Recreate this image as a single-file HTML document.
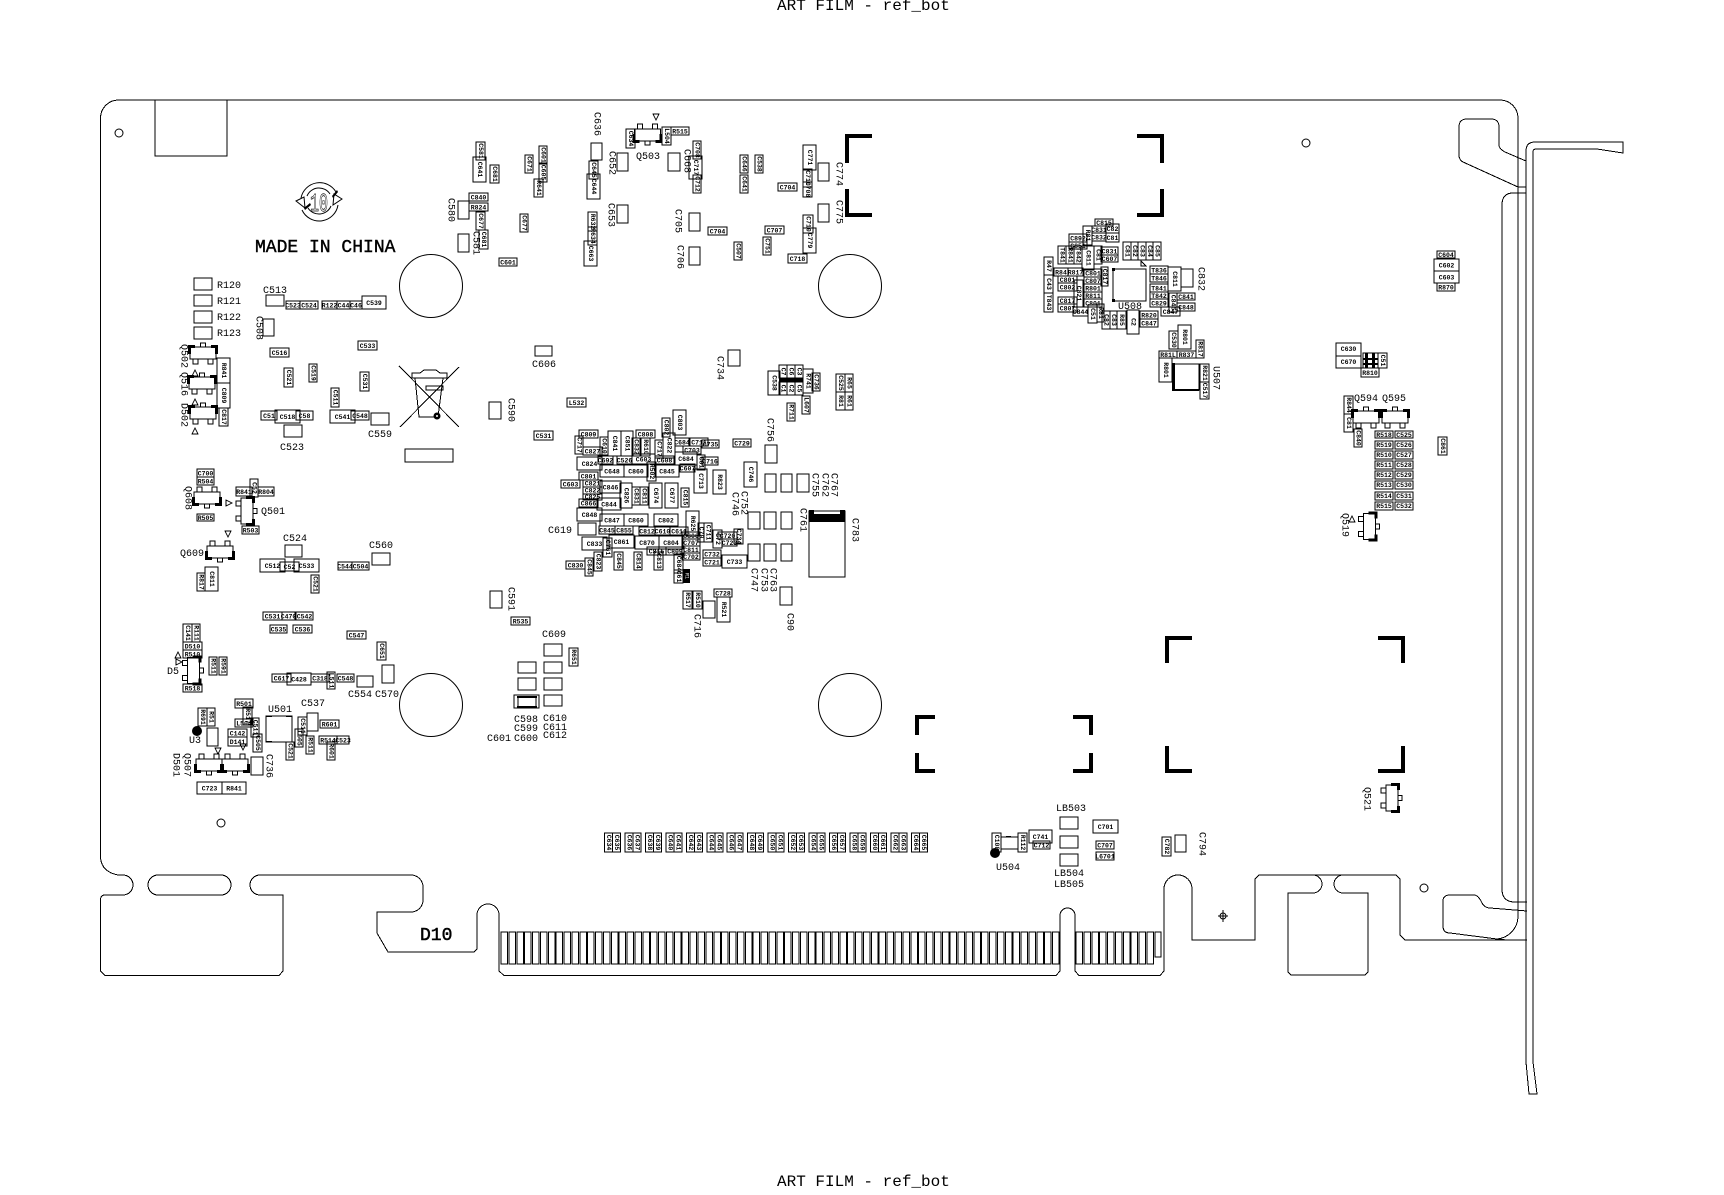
<!DOCTYPE html>
<html><head><meta charset="utf-8"><title>ART FILM - ref_bot</title>
<style>
html,body{margin:0;padding:0;background:#fff}
svg{display:block}
.o{fill:none;stroke:#000;stroke-width:1;shape-rendering:crispEdges}
.c{fill:none;stroke:#000;stroke-width:1}
.b{fill:none;stroke:#000;stroke-width:4;shape-rendering:crispEdges}
text{font-family:"Liberation Mono",monospace;fill:#000}
.t{font-size:16px}
.l{font-size:10px}
.lv{font-size:10px;writing-mode:vertical-rl;text-anchor:middle}
.h text{font-size:6.5px;font-weight:bold;text-anchor:middle}
.v text{font-size:6.5px;font-weight:bold;text-anchor:middle;writing-mode:vertical-rl}
</style></head><body>
<svg xmlns="http://www.w3.org/2000/svg" width="1724" height="1195" viewBox="0 0 1724 1195">
<defs>
<g id="s"><path class="o" d="M-13-6h26v12h-26zM-2.500-10h5v4h-5zM-10 6h5v5h-5zM5 6h5v5h-5z"/><path d="M-15-8h7v3h-4v6h-3zM15-8h-7v3h4v6h3z"/></g>
</defs>
<text class="t" x="777" y="10">ART FILM - ref_bot</text>
<text class="t" x="777" y="1186">ART FILM - ref_bot</text>

<!-- board outline -->
<path class="o" d="M100.500 118A18 18 0 0 1 118.500 100H1500A18 18 0 0 1 1518 118V917A23 23 0 0 1 1497 939"/>
<path class="o" d="M100.500 118V858Q102 872 118 875H123A10 10 0 0 1 123 895H105Q101 895 100.500 899V971L105 975.500H279L283 971V895H260A10 10 0 0 1 260 875H411A12 12 0 0 1 423 887V900A12 12 0 0 1 411 912H377V933L388 952H474L477 949V915A11 11 0 0 1 499 915V971L504 975.500H1056L1060 971V915.500A7.500 7.500 0 0 1 1075 915.500V971L1079 975.500H1160L1164 971V889A14 14 0 0 1 1192 889V940H1255V879L1259 875H1396L1400 879V935L1405 940H1527"/>
<rect class="o" x="148" y="875" width="83" height="20" rx="10"/>
<path class="o" d="M1313 875A9 9 0 0 1 1313 893H1288V972L1291 975H1365L1368 972V893H1343A9 9 0 0 1 1343 875"/>
<path class="o" d="M1490 908L1527 911M1490 908Q1484 908 1481 901Q1478 895 1474 895H1450Q1443 895 1443 901V926Q1443 933 1450 933L1497 939L1507 940"/>
<path class="o" d="M1526 193H1513Q1502 193 1502 205V889Q1502 902 1515 902H1527"/>
<path class="o" d="M1526 161L1505 152Q1499 149 1499 145V127Q1499 119 1491 119H1467Q1459 119 1459 127V155Q1459 160 1463 162L1518 187H1526"/>
<path class="o" d="M1526 1062V151Q1526 142 1535 142H1623V153L1597 149H1536Q1533 149 1533 152V1062L1537 1094H1529L1526 1062"/>
<path class="o" d="M155 100V156H227V100"/>

<!-- holes -->
<circle class="c" cx="431" cy="286" r="31.500"/><circle class="c" cx="431" cy="705" r="31.500"/>
<circle class="c" cx="850" cy="286" r="31.500"/><circle class="c" cx="850" cy="705" r="31.500"/>
<circle class="c" cx="119" cy="133" r="4"/><circle class="c" cx="221" cy="823" r="4"/>
<circle class="c" cx="1306" cy="143" r="4"/><circle class="c" cx="1424" cy="888" r="4"/>
<circle class="c" cx="1223" cy="916" r="3"/><path class="o" d="M1218 916h10M1223 910v12"/>

<!-- black corner brackets -->
<path class="b" d="M872 136H847V163M847 189V215H872M1137 136H1162V163M1162 189V215H1137"/>
<path class="b" d="M1192 638H1167V663M1378 638H1403V663M1167 746V771H1192M1403 746V771H1378"/>
<path class="b" d="M935 717H917V735M1073 717H1091V735M917 753V771H935M1091 753V771H1073"/>

<!-- gold fingers -->
<path class="o" d="M501 932h6.500v32h-6.500zm7.880 0h6.500v32h-6.500zm7.880 0h6.500v32h-6.500zm7.880 0h6.500v32h-6.500zm7.880 0h6.500v32h-6.500zm7.880 0h6.500v32h-6.500zm7.880 0h6.500v32h-6.500zm7.880 0h6.500v32h-6.500zm7.880 0h6.500v32h-6.500zm7.880 0h6.500v32h-6.500z
m7.880 0h6.500v32h-6.500zm7.880 0h6.500v32h-6.500zm7.880 0h6.500v32h-6.500zm7.880 0h6.500v32h-6.500zm7.880 0h6.500v32h-6.500zm7.880 0h6.500v32h-6.500zm7.880 0h6.500v32h-6.500zm7.880 0h6.500v32h-6.500zm7.880 0h6.500v32h-6.500zm7.880 0h6.500v32h-6.500z
m7.880 0h6.500v32h-6.500zm7.880 0h6.500v32h-6.500zm7.880 0h6.500v32h-6.500zm7.880 0h6.500v32h-6.500zm7.880 0h6.500v32h-6.500zm7.880 0h6.500v32h-6.500zm7.880 0h6.500v32h-6.500zm7.880 0h6.500v32h-6.500zm7.880 0h6.500v32h-6.500zm7.880 0h6.500v32h-6.500z
m7.880 0h6.500v32h-6.500zm7.880 0h6.500v32h-6.500zm7.880 0h6.500v32h-6.500zm7.880 0h6.500v32h-6.500zm7.880 0h6.500v32h-6.500zm7.880 0h6.500v32h-6.500zm7.880 0h6.500v32h-6.500zm7.880 0h6.500v32h-6.500zm7.880 0h6.500v32h-6.500zm7.880 0h6.500v32h-6.500z
m7.880 0h6.500v32h-6.500zm7.880 0h6.500v32h-6.500zm7.880 0h6.500v32h-6.500zm7.880 0h6.500v32h-6.500zm7.880 0h6.500v32h-6.500zm7.880 0h6.500v32h-6.500zm7.880 0h6.500v32h-6.500zm7.880 0h6.500v32h-6.500zm7.880 0h6.500v32h-6.500zm7.880 0h6.500v32h-6.500z
m7.880 0h6.500v32h-6.500zm7.880 0h6.500v32h-6.500zm7.880 0h6.500v32h-6.500zm7.880 0h6.500v32h-6.500zm7.880 0h6.500v32h-6.500zm7.880 0h6.500v32h-6.500zm7.880 0h6.500v32h-6.500zm7.880 0h6.500v32h-6.500zm7.880 0h6.500v32h-6.500zm7.880 0h6.500v32h-6.500z
m7.880 0h6.500v32h-6.500zm7.880 0h6.500v32h-6.500zm7.880 0h6.500v32h-6.500zm7.880 0h6.500v32h-6.500zm7.880 0h6.500v32h-6.500zm7.880 0h6.500v32h-6.500zm7.880 0h6.500v32h-6.500zm7.880 0h6.500v32h-6.500zm7.880 0h6.500v32h-6.500zm7.880 0h6.500v32h-6.500z
m7.880 0h6.500v32h-6.500z"/>
<path class="o" d="M1076 932h6.500v32h-6.500zm7.880 0h6.500v32h-6.500zm7.880 0h6.500v32h-6.500zm7.880 0h6.500v32h-6.500zm7.880 0h6.500v32h-6.500zm7.880 0h6.500v32h-6.500zm7.880 0h6.500v32h-6.500zm7.880 0h6.500v32h-6.500zm7.880 0h6.500v32h-6.500zm7.880 0h6.500v32h-6.500zM1155 932h6v25h-6z"/>

<!-- logo -->
<path class="c" d="M301 198A19 19 0 0 1 336 192M338 205A19 19 0 0 1 302 210M307 196A13 13 0 0 1 330 194M331 206A13 13 0 0 1 308 208"/>
<path class="c" d="M296 201L304 197L305 208zM342 199L334 194L333 205z"/>
<path d="M304 208l6-5 1 2-6 5zM332 196l5-6 1 2-5 6z"/>
<text x="310" y="211" font-size="26" textLength="18" lengthAdjust="spacingAndGlyphs" style="fill:#fff;stroke:#000;stroke-width:.7">10</text>
<text x="255" y="252" font-size="18" style="stroke:#000;stroke-width:.4">MADE IN CHINA</text>

<!-- recycle bin -->
<path class="o" d="M399 366L459 427M459 367L400 427M415 378L419 417H438L443 378M412 378H447V373H440L436 370H424L420 373H412zM426 386H443V390H426z"/>
<circle cx="437" cy="416" r="3.500" fill="#000"/><circle cx="437" cy="416" r="1" fill="#fff"/>
<path class="o" d="M405 449h48v13h-48z"/>

<!-- transistors -->
<use href="#s" transform="translate(203 353)"/><use href="#s" transform="translate(202 383)"/><use href="#s" transform="translate(203 413)"/>
<use href="#s" transform="translate(647.500 135) rotate(180)"/>
<use href="#s" transform="translate(207 498) rotate(180)"/>
<use href="#s" transform="translate(247 511) rotate(90)"/>
<use href="#s" transform="translate(220 552) rotate(180)"/>
<use href="#s" transform="translate(193.500 670.500) rotate(90)"/>
<use href="#s" transform="translate(209 765) rotate(180)"/><use href="#s" transform="translate(235 765) rotate(180)"/>
<use href="#s" transform="translate(1366 417)"/><use href="#s" transform="translate(1395 417)"/>
<use href="#s" transform="translate(1369.500 526.500) rotate(90)"/>
<use href="#s" transform="translate(1392 798) rotate(90)"/>
<path class="o" d="M192 376l3-6 3 6zM192 405l3-6 3 6zM192 434l3-6 3 6zM653 114l3 6 3-6zM226 500l6 3-6 3zM225 531l3 6 3-6zM175 658l3-6 3 6zM176 659l6 3-6 3zM215 748l3 6 3-6zM240 744l3 6 3-6zM1349 522l3-6 3 6zM1141 261l5 5h-5z"/>

<!-- ICs + dots -->
<rect x="266" y="716" width="26" height="26" class="o"/><path d="M266 716h6v1h-6zM286 716h6v1h-6zM266 741h6v1h-6z"/>
<path class="o" d="M1113 269h33v32h-33z"/><path d="M1112 268h3v3h-3zM1112 299h3v3h-3z"/>
<path d="M1172 363h3v28h-3zM1172 389h27v2h-27z"/><path class="o" d="M1173 364h26v26h-26z"/>
<circle cx="197" cy="731" r="5"/><circle cx="995" cy="853" r="5"/>

<!-- plain outline pads (no small label) -->
<path class="o" d="M194 278h18v12h-18zM194 295h18v11h-18zM194 311h18v12h-18zM194 327h18v12h-18zM266 295h18v11h-18zM263 319h11v17h-11zM371 413h18v12h-18zM284 425h18v12h-18zM535 346h17v10h-17zM489 402h12v17h-12z
M458 201h11v18h-11zM458 234h11v18h-11zM591 143h11v17h-11zM617 153h11v18h-11zM617 205h11v18h-11zM668 153h12v18h-12zM689 213h11v18h-11zM689 247h11v18h-11zM818 163h11v18h-11zM818 204h11v18h-11zM728 350h12v16h-12z
M285 545h17v12h-17zM372 553h18v12h-18zM578 523h18v12h-18zM357 676h16v11h-16zM382 665h12v18h-12zM490 591h12v17h-12zM544 644h18v12h-18zM544 662h18v11h-18zM544 678h18v12h-18zM544 695h18v11h-18zM518 662h18v11h-18zM518 678h18v12h-18zM514 695h25v13h-25zM518 697h18v10h-18z
M207 728h11v18h-11zM307 713h11v18h-11zM251 757h12v18h-12zM765 445h12v18h-12zM765 474h11v18h-11zM781 474h11v18h-11zM797 474h12v18h-12zM748 512h12v17h-12zM764 512h12v17h-12zM781 512h11v17h-11zM748 544h12v17h-12zM764 544h12v17h-12zM781 544h11v17h-11zM780 587h12v18h-12zM703 601h12v17h-12z
M809 511h36v66h-36zM1181 269h12v18h-12zM1001 837h17v12h-17zM1060 817h18v12h-18zM1060 836h18v12h-18zM1060 854h18v12h-18zM1175 835h11v17h-11z"/>
<path d="M809 514h36v8h-36zM809 510h5v4h-5zM840 510h5v4h-5z"/>
<path d="M517 696h20v2h-20zM517 706h20v2h-20z"/>
<path d="M1006 836h5v1h-5z"/>

<!-- big labels horizontal -->
<g class="l">
<text class="l" x="217" y="288">R120</text><text class="l" x="217" y="304">R121</text><text class="l" x="217" y="320">R122</text><text class="l" x="217" y="336">R123</text>
<text class="l" x="263" y="293">C513</text><text class="l" x="368" y="437">C559</text><text class="l" x="280" y="450">C523</text><text class="l" x="532" y="367">C606</text>
<text class="l" x="636" y="159">Q503</text><text class="l" x="261" y="514">Q501</text><text class="l" x="180" y="556">Q609</text><text class="l" x="283" y="541">C524</text><text class="l" x="369" y="548">C560</text><text class="l" x="548" y="533">C619</text>
<text class="l" x="542" y="637">C609</text><text class="l" x="514" y="722">C598</text><text class="l" x="543" y="721">C610</text><text class="l" x="514" y="731">C599</text><text class="l" x="543" y="730">C611</text><text class="l" x="487" y="741">C601</text><text class="l" x="514" y="741">C600</text><text class="l" x="543" y="738">C612</text>
<text class="l" x="167" y="674">D5</text><text class="l" x="348" y="697">C554</text><text class="l" x="375" y="697">C570</text><text class="l" x="189" y="743">U3</text><text class="l" x="268" y="712">U501</text><text class="l" x="301" y="706">C537</text>
<text class="l" x="1118" y="309">U508</text><text class="l" x="1354" y="401">Q594</text><text class="l" x="1382" y="401">Q595</text>
<text class="l" x="996" y="870">U504</text><text class="l" x="1056" y="811">LB503</text><text class="l" x="1054" y="876">LB504</text><text class="l" x="1054" y="887">LB505</text>
</g>
<text x="420" y="940" font-size="18" style="stroke:#000;stroke-width:.5">D10</text>

<!-- big labels vertical -->
<text class="lv" x="258" y="328">C508</text><text class="lv" x="183" y="356">Q502</text><text class="lv" x="183" y="384">Q516</text><text class="lv" x="183" y="415">D502</text>
<text class="lv" x="450" y="210">C580</text><text class="lv" x="475" y="243">C581</text><text class="lv" x="596" y="124">C636</text><text class="lv" x="611" y="163">C652</text><text class="lv" x="610" y="215">C653</text><text class="lv" x="686" y="161">C668</text><text class="lv" x="677" y="221">C705</text><text class="lv" x="679" y="257">C706</text><text class="lv" x="838" y="174">C774</text><text class="lv" x="838" y="212">C775</text>
<text class="lv" x="510" y="410">C590</text><text class="lv" x="719" y="368">C734</text><text class="lv" x="769" y="430">C756</text><text class="lv" x="187" y="498">Q608</text><text class="lv" x="510" y="599">C591</text>
<text class="lv" x="175" y="765">D501</text><text class="lv" x="186" y="765">Q507</text><text class="lv" x="268" y="766">C736</text>
<text class="lv" x="696" y="626">C716</text><text class="lv" x="802" y="520">C761</text><text class="lv" x="854" y="530">C783</text><text class="lv" x="833" y="485">C767</text><text class="lv" x="824" y="485">C762</text><text class="lv" x="814" y="485">C755</text><text class="lv" x="743" y="503">C752</text><text class="lv" x="734" y="504">C746</text><text class="lv" x="772" y="580">C763</text><text class="lv" x="763" y="580">C753</text><text class="lv" x="753" y="580">C747</text><text class="lv" x="789" y="622">C90</text>
<text class="lv" x="1200" y="279">C832</text><text class="lv" x="1215" y="378">U507</text><text class="lv" x="1344" y="525">Q519</text><text class="lv" x="1366" y="799">Q521</text><text class="lv" x="1201" y="844">C794</text>

<!-- small parts: left / top -->
<path class="o" d="M286 301h14v8h-14zM300 301h18v8h-18zM322 301h15v8h-15zM337 301h13v8h-13zM350 301h12v8h-12zM362 296h24v13h-24zM270 348h19v9h-19zM358 341h19v9h-19zM261 411h16v9h-16zM275 410h25v13h-25zM296 411h17v9h-17zM330 410h25v13h-25zM351 411h18v9h-18z
M469 193h19v8h-19zM469 203h19v8h-19zM499 258h18v8h-18zM671 127h18v8h-18zM708 227h19v8h-19zM778 183h19v8h-19zM765 226h19v8h-19zM788 254h19v9h-19zM534 431h19v9h-19zM567 398h19v9h-19z"/>
<g class="h">
<text x="293" y="307.500">C523</text><text x="309" y="307.500">C524</text><text x="329.500" y="307.500">R122</text><text x="343.500" y="307.500">C44</text><text x="356" y="307.500">C46</text><text x="374" y="305">C539</text><text x="279.500" y="355">C516</text><text x="367.500" y="348">C533</text><text x="269" y="418">C51</text><text x="287.500" y="419">C518</text><text x="304.500" y="418">C58</text><text x="342.500" y="419">C541</text><text x="360" y="418">C548</text>
<text x="478.500" y="199.500">C840</text><text x="478.500" y="209.500">R824</text><text x="508" y="264.500">C601</text><text x="680" y="133.500">R515</text><text x="717.500" y="233.500">C704</text><text x="787.500" y="189.500">C704</text><text x="774.500" y="232.500">C707</text><text x="797.500" y="261">C718</text><text x="543.500" y="438">C531</text><text x="576.500" y="405">L532</text>
</g>
<path class="o" d="M284 368h9v19h-9zM309 364h8v18h-8zM360 372h9v19h-9zM331 388h8v19h-8zM217 358h13v25h-13zM217 383h13v25h-13zM219 408h9v18h-9z
M476 142h9v18h-9zM473 157h13v25h-13zM490 165h9v18h-9zM525 155h8v18h-8zM539 146h8v18h-8zM539 163h8v19h-8zM534 179h9v18h-9zM476 212h9v18h-9zM479 230h9v19h-9zM520 214h8v18h-8z
M589 161h9v18h-9zM587 174h13v25h-13zM588 212h9v19h-9zM588 227h9v18h-9zM584 241h13v25h-13zM626 129h9v19h-9zM662 127h9v18h-9zM693 141h8v18h-8zM689 156h13v23h-13zM693 175h8v18h-8zM740 155h8v18h-8zM740 175h8v18h-8zM755 155h8v18h-8zM734 242h8v18h-8zM763 237h8v18h-8z
M803 145h13v25h-13zM803 169h9v18h-9zM803 182h9v15h-9zM803 215h10v18h-10zM803 228h13v25h-13z"/>
<g class="v">
<text x="288.500" y="377.500">C521</text><text x="313" y="373">C519</text><text x="364.500" y="381.500">C531</text><text x="335" y="397.500">C511</text><text x="223.500" y="370.500">R841</text><text x="223.500" y="395.500">C809</text><text x="223.500" y="417">C817</text>
<text x="480.500" y="151">C581</text><text x="479.500" y="169.500">C641</text><text x="494.500" y="174">C681</text><text x="529" y="164">C671</text><text x="543" y="155">C601</text><text x="543" y="172.500">C605</text><text x="538.500" y="188">R641</text><text x="480.500" y="221">C677</text><text x="483.500" y="239.500">C681</text><text x="524" y="223">C677</text>
<text x="593.500" y="170">C645</text><text x="593.500" y="186.500">C644</text><text x="592.500" y="221.500">R632</text><text x="592.500" y="236">R634</text><text x="590.500" y="253.500">C663</text><text x="630.500" y="138.500">C634</text><text x="666.500" y="136">L504</text><text x="697" y="150">C708</text><text x="695.500" y="167.500">C717</text><text x="697" y="184">C712</text><text x="744" y="164">C646</text><text x="744" y="184">C641</text><text x="759" y="164">C538</text><text x="738" y="251">C507</text><text x="767" y="246">C751</text>
<text x="809.500" y="157.500">C771</text><text x="807.500" y="178">C710</text><text x="807.500" y="189.500">C708</text><text x="808" y="224">C710</text><text x="809.500" y="240.500">C779</text>
</g>

<!-- cluster around C738 -->
<path class="o" d="M768 371h12v24h-12zM779 365h8v13h-8zM787 365h8v13h-8zM795 365h8v13h-8zM779 382h8v13h-8zM787 382h8v13h-8zM795 382h8v13h-8zM803 369h10v24h-10zM812 373h8v18h-8zM802 396h8v18h-8zM787 403h8v18h-8zM836 374h9v18h-9zM845 374h8v18h-8zM836 392h9v18h-9zM845 392h8v18h-8z"/>
<path d="M779 378h24v4h-24z"/>
<g class="v"><text x="774" y="383">C538</text><text x="783" y="371.500">C7</text><text x="791" y="371.500">C6</text><text x="799" y="371.500">C3</text><text x="783" y="388.500">C1</text><text x="791" y="388.500">C2</text><text x="799" y="388.500">C5</text><text x="808" y="381">R741</text><text x="816" y="382">C736</text><text x="806" y="405">L607</text><text x="791" y="412">R711</text><text x="840.500" y="383">C525</text><text x="849" y="383">R65</text><text x="840.500" y="401">R81</text><text x="849" y="401">R61</text></g>

<!-- Q608/Q501 area -->
<path class="o" d="M197 469h17v8h-17zM197 477h17v8h-17zM197 514h17v7h-17zM236 487h16v9h-16zM258 487h16v9h-16zM242 526h17v8h-17zM260 559h25v13h-25zM280 562h19v9h-19zM294 559h25v13h-25zM338 562h14v8h-14zM352 562h17v8h-17zM263 612h19v8h-19zM282 612h13v8h-13zM296 612h17v8h-17zM270 625h17v8h-17zM293 625h19v8h-19zM347 631h19v8h-19zM511 617h19v8h-19z
M183 642h19v8h-19zM183 650h19v8h-19zM183 684h19v8h-19zM272 674h19v8h-19zM287 673h24v12h-24zM311 674h18v8h-18zM337 674h17v8h-17zM235 699h18v9h-18zM235 719h18v8h-18zM228 729h19v8h-19zM228 737h19v9h-19zM320 720h19v8h-19zM319 736h18v8h-18zM337 736h12v8h-12zM197 782h25v12h-25zM222 782h24v12h-24z"/>
<g class="h">
<text x="205.500" y="475.500">C700</text><text x="205.500" y="483.500">R504</text><text x="205.500" y="520">R505</text><text x="244" y="494">R841</text><text x="266" y="494">R804</text><text x="250.500" y="532.500">R503</text><text x="272.500" y="568">C512</text><text x="289.500" y="569">C52</text><text x="306.500" y="568">C533</text><text x="345" y="568.500">C544</text><text x="360.500" y="568.500">C504</text>
<text x="272.500" y="618.500">C531</text><text x="288.500" y="618.500">C470</text><text x="304.500" y="618.500">C542</text><text x="278.500" y="631.500">C535</text><text x="302.500" y="631.500">C536</text><text x="356.500" y="637.500">C547</text><text x="520.500" y="623.500">R535</text>
<text x="192.500" y="648.500">D510</text><text x="192.500" y="656.500">R510</text><text x="192.500" y="690.500">R518</text><text x="281.500" y="680.500">C617</text><text x="299" y="681.500">C428</text><text x="320" y="680.500">C318</text><text x="345.500" y="680.500">C548</text><text x="244" y="706">R501</text><text x="244" y="725.500">L504</text><text x="237.500" y="735.500">C142</text><text x="237.500" y="744">D141</text><text x="329.500" y="726.500">R601</text><text x="328" y="742.500">R514</text><text x="343" y="742.500">C523</text><text x="209.500" y="790.500">C723</text><text x="234" y="790.500">R841</text>
</g>
<path class="o" d="M250 479h8v18h-8zM197 573h8v18h-8zM205 567h13v24h-13zM311 575h8v18h-8zM377 642h9v18h-9zM569 648h9v18h-9z
M183 624h9v18h-9zM192 624h8v18h-8zM209 657h8v18h-8zM219 657h8v18h-8zM327 672h8v17h-8zM243 707h9v18h-9zM251 718h8v19h-8zM198 708h9v18h-9zM207 708h8v18h-8zM253 734h9v18h-9zM298 717h9v18h-9zM295 729h8v18h-8zM286 742h8v18h-8zM306 736h8v18h-8zM327 742h8v18h-8z"/>
<g class="v">
<text x="254" y="488">C52</text><text x="201" y="582">R817</text><text x="211.500" y="579">C811</text><text x="315" y="584">C521</text><text x="381.500" y="651">C651</text><text x="573.500" y="657">R651</text><text x="187.500" y="633">C141</text><text x="196" y="633">R111</text><text x="213" y="666">R511</text><text x="223" y="666">R591</text><text x="331" y="680.500">L511</text><text x="247.500" y="716">R517</text><text x="255" y="727.500">C511</text><text x="202.500" y="717">R691</text><text x="211" y="717">R51</text><text x="257.500" y="743">C505</text><text x="302.500" y="726">C511</text><text x="299" y="738">L505</text><text x="290" y="751">C521</text><text x="310" y="745">R511</text><text x="331" y="751">R601</text>
</g>

<!-- central cluster -->
<path class="o" d="M579 430h19v8h-19zM583 447h19v8h-19zM636 430h19v8h-19zM675 438h14v8h-14zM690 438h18v8h-18zM702 440h17v8h-17zM683 446h18v8h-18zM733 439h18v8h-18zM577 457h25v13h-25zM598 456h15v8h-15zM617 456h15v8h-15zM632 454h23v10h-23zM655 456h19v8h-19zM675 452h22v13h-22zM702 457h16v8h-16zM680 464h15v8h-15zM600 465h24v12h-24zM624 465h24v12h-24zM655 465h24v12h-24z
M579 472h19v8h-19zM561 480h19v8h-19zM583 480h19v7h-19zM583 487h19v7h-19zM583 494h19v6h-19zM600 481h21v12h-21zM579 499h19v8h-19zM597 498h24v12h-24zM577 508h25v13h-25zM600 514h24v12h-24zM624 514h24v12h-24zM654 514h24v12h-24zM599 526h16v8h-16zM615 526h18v8h-18zM639 527h16v8h-16zM655 527h15v8h-15zM670 527h18v8h-18z
M582 537h25v13h-25zM609 535h25v13h-25zM635 536h24v13h-24zM659 536h24v13h-24zM682 532h18v7h-18zM682 539h18v7h-18zM682 546h18v7h-18zM682 553h18v7h-18zM647 547h19v8h-19zM666 547h18v8h-18zM703 550h18v8h-18zM703 558h18v8h-18zM722 555h25v13h-25zM718 532h19v7h-19zM722 539h15v7h-15zM566 561h19v8h-19zM714 589h18v8h-18z"/>
<g class="h">
<text x="588.500" y="436.500">C809</text><text x="592.500" y="453.500">C827</text><text x="645.500" y="436.500">C808</text><text x="682" y="444.500">C684</text><text x="699" y="444.500">C711</text><text x="710.500" y="446.500">C735</text><text x="692" y="452.500">C703</text><text x="742" y="445.500">C729</text><text x="589.500" y="466">C824</text><text x="605.500" y="462.500">C692</text><text x="624.500" y="462.500">C526</text><text x="643.500" y="461.500">C603</text><text x="664.500" y="462.500">C608</text><text x="686" y="461">C684</text><text x="710" y="463.500">C716</text><text x="687.500" y="470.500">C607</text><text x="612" y="473.500">C648</text><text x="636" y="473.500">C860</text><text x="667" y="473.500">C845</text>
<text x="588.500" y="478.500">C801</text><text x="570.500" y="486.500">C603</text><text x="592.500" y="485.500">C821</text><text x="592.500" y="492.500">C822</text><text x="592.500" y="499">C825</text><text x="610.500" y="489.500">C846</text><text x="588.500" y="505.500">C866</text><text x="609" y="506.500">C844</text><text x="589.500" y="517">C848</text><text x="612" y="522.500">C847</text><text x="636" y="522.500">C860</text><text x="666" y="522.500">C802</text><text x="607" y="532.500">C845</text><text x="624" y="532.500">C855</text><text x="647" y="533.500">C812</text><text x="662.500" y="533.500">C610</text><text x="679" y="533.500">C611</text>
<text x="594.500" y="546">C833</text><text x="621.500" y="544">C861</text><text x="647" y="545">C870</text><text x="671" y="545">C804</text><text x="691" y="538">C806</text><text x="691" y="545">C707</text><text x="691" y="552">C811</text><text x="691" y="559">C702</text><text x="656.500" y="553.500">C815</text><text x="675" y="553.500">C809</text><text x="712" y="556.500">C732</text><text x="712" y="564.500">C721</text><text x="734.500" y="564">C733</text><text x="727.500" y="538">C720</text><text x="729.500" y="545">C723</text><text x="575.500" y="567.500">C830</text><text x="723" y="595.500">C728</text>
</g>
<path class="o" d="M575 436h8v18h-8zM600 437h8v18h-8zM608 431h13v25h-13zM621 431h12v25h-12zM632 438h8v18h-8zM641 438h9v18h-9zM655 440h8v18h-8zM662 418h8v19h-8zM673 410h13v25h-13zM663 433h12v25h-12zM697 455h8v15h-8zM647 462h9v19h-9zM694 469h13v24h-13zM713 470h13v24h-13zM744 462h13v25h-13z
M620 483h12v25h-12zM632 487h8v18h-8zM640 487h8v18h-8zM649 483h13v25h-13zM665 483h13v25h-13zM681 488h8v19h-8zM686 511h13v25h-13zM698 523h6v19h-6zM704 523h8v19h-8zM603 538h9v19h-9zM713 530h9v18h-9zM734 529h9v15h-9z
M585 558h8v18h-8zM594 552h8v19h-8zM614 552h9v18h-9zM634 552h8v18h-8zM654 552h9v18h-9zM674 554h9v19h-9zM674 570h9v13h-9zM683 591h9v18h-9zM693 591h9v18h-9zM717 597h13v25h-13z"/>
<path d="M683 569h7v14h-7z"/>
<g class="v">
<text x="579" y="445">C717</text><text x="604" y="446">C610</text><text x="614.500" y="443.500">C841</text><text x="627" y="443.500">C851</text><text x="636" y="447">C832</text><text x="645.500" y="447">R610</text><text x="659" y="449">C717</text><text x="666" y="427.500">C802</text><text x="679.500" y="422.500">C803</text><text x="669" y="445.500">C822</text><text x="701" y="462.500">C81</text><text x="651.500" y="471.500">R502</text><text x="700.500" y="481">C713</text><text x="719.500" y="482">R823</text><text x="750.500" y="474.500">C746</text>
<text x="626" y="495.500">C826</text><text x="636" y="496">C831</text><text x="644" y="496">C811</text><text x="655.500" y="495.500">C674</text><text x="671.500" y="495.500">C677</text><text x="685" y="497.500">C815</text><text x="692.500" y="523.500">R625</text><text x="701" y="532.500">C70</text><text x="708" y="532.500">C711</text><text x="607.500" y="547.500">C761</text><text x="717.500" y="539">C72</text><text x="738.500" y="536.500">C734</text>
<text x="589" y="567">C845</text><text x="598" y="561.500">C823</text><text x="618.500" y="561">C845</text><text x="638" y="561">C814</text><text x="658.500" y="561">C813</text><text x="678.500" y="563.500">C684</text><text x="678.500" y="576.500">C61</text><text x="687.500" y="600">R517</text><text x="697.500" y="600">R510</text><text x="723.500" y="609.500">R521</text>
</g>
<text x="686.500" y="576" style="font-size:5px;fill:#fff;writing-mode:vertical-rl;text-anchor:middle">R1</text>

<!-- U508 cluster -->
<path class="o" d="M1054 268h14v8h-14zM1068 268h15v8h-15zM1101 247h17v8h-17zM1101 255h17v7h-17zM1069 234h18v8h-18zM1069 242h18v7h-18zM1092 226h14v7h-14zM1092 233h14v8h-14zM1095 219h18v7h-18zM1106 224h13v9h-13zM1106 233h13v9h-13zM1058 276h19v7h-19zM1058 283h19v8h-19zM1058 297h19v7h-19zM1058 304h19v8h-19zM1084 269h18v8h-18zM1084 277h18v7h-18zM1084 284h18v8h-18zM1084 292h18v7h-18zM1084 299h18v8h-18zM1073 307h15v9h-15zM1140 311h18v8h-18zM1140 319h18v8h-18zM1150 266h18v8h-18zM1150 274h18v8h-18zM1150 284h18v8h-18zM1150 292h18v7h-18zM1150 299h18v8h-18zM1177 293h18v7h-18zM1177 303h18v8h-18zM1161 307h19v9h-19zM1159 351h18v7h-18zM1177 351h19v7h-19z"/>
<g class="h">
<text x="1061" y="274.500">R84</text><text x="1075.500" y="274.500">R817</text><text x="1109.500" y="253.500">C831</text><text x="1109.500" y="261">C607</text><text x="1078" y="240.500">C892</text><text x="1078" y="248">C851</text><text x="1099" y="232">C831</text><text x="1099" y="239.500">C832</text><text x="1104" y="225">C815</text><text x="1112.500" y="231">C82</text><text x="1112.500" y="240">C81</text><text x="1067.500" y="282">C801</text><text x="1067.500" y="289.500">C802</text><text x="1067.500" y="303">C817</text><text x="1067.500" y="310.500">C807</text><text x="1093" y="275.500">C801</text><text x="1093" y="283">C807</text><text x="1093" y="290.500">R801</text><text x="1093" y="298">R811</text><text x="1093" y="305.500">C801</text><text x="1080.500" y="314">C844</text><text x="1149" y="317.500">R820</text><text x="1149" y="325.500">C847</text><text x="1159" y="272.500">T836</text><text x="1159" y="280.500">T846</text><text x="1159" y="290.500">T841</text><text x="1159" y="298">T842</text><text x="1159" y="305.500">C829</text><text x="1186" y="299">C841</text><text x="1186" y="309.500">C848</text><text x="1170.500" y="314">C847</text><text x="1168" y="357">R81L</text><text x="1186.500" y="357">R837</text>
</g>
<path class="o" d="M1044 257h9v18h-9zM1044 275h9v18h-9zM1044 293h9v19h-9zM1058 246h8v18h-8zM1066 246h8v18h-8zM1074 246h8v18h-8zM1082 246h12v24h-12zM1094 246h8v18h-8zM1083 226h9v19h-9zM1074 280h9v27h-9zM1101 267h7v19h-7zM1088 305h9v18h-9zM1097 304h7v18h-7zM1102 311h8v18h-8zM1110 311h7v18h-7zM1117 311h9v18h-9zM1127 310h12v24h-12zM1123 242h8v18h-8zM1131 242h7v18h-7zM1138 242h8v18h-8zM1146 242h7v18h-7zM1153 242h8v18h-8zM1168 267h13v24h-13zM1169 293h8v19h-8z
M1178 325h13v24h-13zM1169 331h9v18h-9zM1196 340h8v18h-8zM1159 358h13v24h-13zM1200 364h9v18h-9zM1200 382h9v17h-9z"/>
<g class="v">
<text x="1048.500" y="266">R47</text><text x="1048.500" y="284">C43</text><text x="1048.500" y="302.500">T843</text><text x="1062" y="255">T841</text><text x="1070" y="255">R841</text><text x="1078" y="255">T842</text><text x="1088" y="258">C811</text><text x="1098" y="255">C81</text><text x="1087.500" y="235.500">R81</text><text x="1078.500" y="293.500">C821</text><text x="1104.500" y="276.500">C817</text><text x="1092.500" y="314">C51</text><text x="1100.500" y="313">R81</text><text x="1106" y="320">C82</text><text x="1113.500" y="320">C83</text><text x="1121.500" y="320">R85</text><text x="1133" y="322">C2</text><text x="1127" y="251">C81</text><text x="1134.500" y="251">C82</text><text x="1142" y="251">C83</text><text x="1149.500" y="251">C84</text><text x="1157" y="251">C85</text><text x="1174.500" y="279">C811</text><text x="1173" y="302.500">C845</text>
<text x="1184.500" y="337">R801</text><text x="1173.500" y="340">C530</text><text x="1200" y="349">R817</text><text x="1165.500" y="370">R801</text><text x="1204.500" y="373">R821</text><text x="1204.500" y="390.500">C517</text>
</g>

<!-- right clusters -->
<path class="o" d="M1336 343h25v13h-25zM1336 356h25v12h-25zM1361 368h18v9h-18zM1375 431h18v7h-18zM1395 431h18v7h-18zM1375 441h18v8h-18zM1395 441h18v8h-18zM1375 451h18v8h-18zM1395 451h18v8h-18zM1375 461h18v8h-18zM1395 461h18v8h-18zM1375 471h18v8h-18zM1395 471h18v8h-18zM1375 481h18v8h-18zM1395 481h18v8h-18zM1375 492h18v8h-18zM1395 492h18v8h-18zM1375 502h18v8h-18zM1395 502h18v8h-18zM1437 251h18v7h-18zM1434 259h25v12h-25zM1434 271h25v12h-25zM1437 283h18v8h-18z
M1093 820h25v13h-25zM1096 841h18v8h-18zM1096 852h18v8h-18zM1029 830h23v13h-23zM1033 841h17v8h-17z"/>
<g class="h">
<text x="1348.500" y="351">C630</text><text x="1348.500" y="364">C670</text><text x="1370" y="375">R810</text>
<text x="1384" y="437">R518</text><text x="1404" y="437">C525</text><text x="1384" y="447">R519</text><text x="1404" y="447">C526</text><text x="1384" y="457">R510</text><text x="1404" y="457">C527</text><text x="1384" y="467">R511</text><text x="1404" y="467">C528</text><text x="1384" y="477">R512</text><text x="1404" y="477">C529</text><text x="1384" y="487">R513</text><text x="1404" y="487">C530</text><text x="1384" y="498">R514</text><text x="1404" y="498">C531</text><text x="1384" y="508">R515</text><text x="1404" y="508">C532</text>
<text x="1446" y="257">C604</text><text x="1446.500" y="267.500">C602</text><text x="1446.500" y="279.500">C603</text><text x="1446" y="289.500">R870</text>
<text x="1105.500" y="829">C701</text><text x="1105" y="847.500">C707</text><text x="1105" y="858.500">L6701</text><text x="1040.500" y="839">C741</text><text x="1041.500" y="847.500">C712</text>
</g>
<path class="o" d="M1363 353h15v15h-15zM1378 353h9v15h-9zM1344 396h9v18h-9zM1344 414h9v18h-9zM1354 429h8v18h-8zM1438 437h9v18h-9zM992 833h9v19h-9zM1018 833h9v19h-9zM1162 837h9v19h-9z"/>
<path d="M1365 353h3v15h-3zM1372 353h3v15h-3zM1363 358h15v2h-15zM1363 363h15v2h-15z"/>
<g class="v"><text x="1382.500" y="360.500">C51</text><text x="1348.500" y="405">R844</text><text x="1348.500" y="423">C81</text><text x="1358" y="438">C840</text><text x="1442.500" y="446">C861</text><text x="996.500" y="842.500">C108</text><text x="1022.500" y="842.500">R112</text><text x="1166.500" y="846.500">C782</text></g>

<!-- connector row -->
<path class="o" d="M604.500 833h8v19h-8zm8 0h8v19h-8zM625 833h8v19h-8zm8 0h8v19h-8zM645.400 833h8v19h-8zm8 0h8v19h-8zM665.900 833h8v19h-8zm8 0h8v19h-8zM686.300 833h8v19h-8zm8 0h8v19h-8zM706.800 833h8v19h-8zm8 0h8v19h-8zM727.200 833h8v19h-8zm8 0h8v19h-8zM747.700 833h8v19h-8zm8 0h8v19h-8zM768.100 833h8v19h-8zm8 0h8v19h-8zM788.600 833h8v19h-8zm8 0h8v19h-8zM809 833h8v19h-8zm8 0h8v19h-8zM829.500 833h8v19h-8zm8 0h8v19h-8zM849.900 833h8v19h-8zm8 0h8v19h-8zM870.400 833h8v19h-8zm8 0h8v19h-8zM890.800 833h8v19h-8zm8 0h8v19h-8zM911.300 833h8v19h-8zm8 0h8v19h-8z"/>
<g class="v">
<text x="608.500" y="842.500">C634</text><text x="616.500" y="842.500">C635</text><text x="629" y="842.500">C636</text><text x="637" y="842.500">C637</text><text x="649.400" y="842.500">C638</text><text x="657.400" y="842.500">C639</text><text x="669.900" y="842.500">C640</text><text x="677.900" y="842.500">C641</text><text x="690.300" y="842.500">C642</text><text x="698.300" y="842.500">C643</text><text x="710.800" y="842.500">C644</text><text x="718.800" y="842.500">C645</text><text x="731.200" y="842.500">C646</text><text x="739.200" y="842.500">C647</text><text x="751.700" y="842.500">C648</text><text x="759.700" y="842.500">C649</text>
<text x="772.100" y="842.500">C650</text><text x="780.100" y="842.500">C651</text><text x="792.600" y="842.500">C652</text><text x="800.600" y="842.500">C653</text><text x="813" y="842.500">C654</text><text x="821" y="842.500">C655</text><text x="833.500" y="842.500">C656</text><text x="841.500" y="842.500">C657</text><text x="853.900" y="842.500">C658</text><text x="861.900" y="842.500">C659</text><text x="874.400" y="842.500">C660</text><text x="882.400" y="842.500">C661</text><text x="894.800" y="842.500">C662</text><text x="902.800" y="842.500">C663</text><text x="915.300" y="842.500">C664</text><text x="923.300" y="842.500">C665</text>
</g>
</svg>
</body></html>
